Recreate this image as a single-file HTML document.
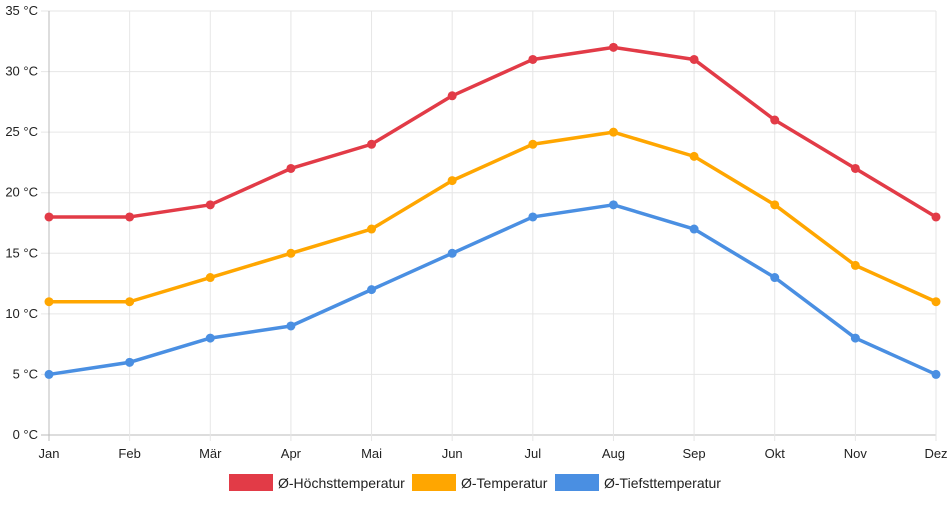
<!DOCTYPE html>
<html><head><meta charset="utf-8"><style>
body{margin:0;background:#fff;font-family:"Liberation Sans",sans-serif;}
svg text{font-family:"Liberation Sans",sans-serif;font-size:13px;fill:#222;}
</style></head><body>
<svg id="chart" width="952" height="500"></svg>
<script>
const months=["Jan","Feb","Mär","Apr","Mai","Jun","Jul","Aug","Sep","Okt","Nov","Dez"];
const highs=[18,18,19,22,24,28,31,32,31,26,22,18];
const means=[11,11,13,15,17,21,24,25,23,19,14,11];
const lows=[5,6,8,9,12,15,18,19,17,13,8,5];
const yTicks=[0,5,10,15,20,25,30,35];
const seriesNames=["Ø-Höchsttemperatur","Ø-Temperatur","Ø-Tiefsttemperatur"];
const seriesColors=["#e23b47","#ffa600","#4a8fe2"];
const svg=document.getElementById('chart');
const NS="http://www.w3.org/2000/svg";
const L=49,R=936,T=11,B=435;
const x=i=>L+i*(R-L)/(months.length-1);
const y=v=>B-(v/35)*(B-T);
function mk(tag,attrs,parent){const e=document.createElementNS(NS,tag);for(const k in attrs)e.setAttribute(k,attrs[k]);(parent||svg).appendChild(e);return e;}
yTicks.forEach(t=>{
  const g=mk('line',{x1:L-8,x2:R,y1:y(t),y2:y(t),stroke:t===0?'#bbb':'#e6e6e6','stroke-width':1});
  
  
  const tx=mk('text',{x:L-11,y:y(t)+4,'text-anchor':'end'});
  tx.textContent=t+" °C";
  
  
});
months.forEach((m,i)=>{
  const g=mk('line',{x1:x(i),x2:x(i),y1:T,y2:B+6,stroke:i===0?'#bbb':'#e6e6e6','stroke-width':1});
  
  
  const tx=mk('text',{x:x(i),y:B+23,'text-anchor':'middle'});
  tx.textContent=m;
  
  
});
[highs,means,lows].forEach((d,s)=>{
  const p=mk('polyline',{points:d.map((v,i)=>x(i)+','+y(v)).join(' '),fill:'none',stroke:seriesColors[s],'stroke-width':3.5,'stroke-linejoin':'round'});
  
  
  d.forEach((v,i)=>{
    const c=mk('circle',{cx:x(i),cy:y(v),r:4.5,fill:seriesColors[s]});
    
    
  });
});
const boxX=[229,412,555];
seriesNames.forEach((n,s)=>{
  const r=mk('rect',{x:boxX[s],y:474,width:44,height:17,fill:seriesColors[s]});
  
  
  const t=mk('text',{x:boxX[s]+49,y:488,'font-size':'14'});
  t.style.fontSize='14px';
  t.textContent=n;
  
  
});
</script>
</body></html>
